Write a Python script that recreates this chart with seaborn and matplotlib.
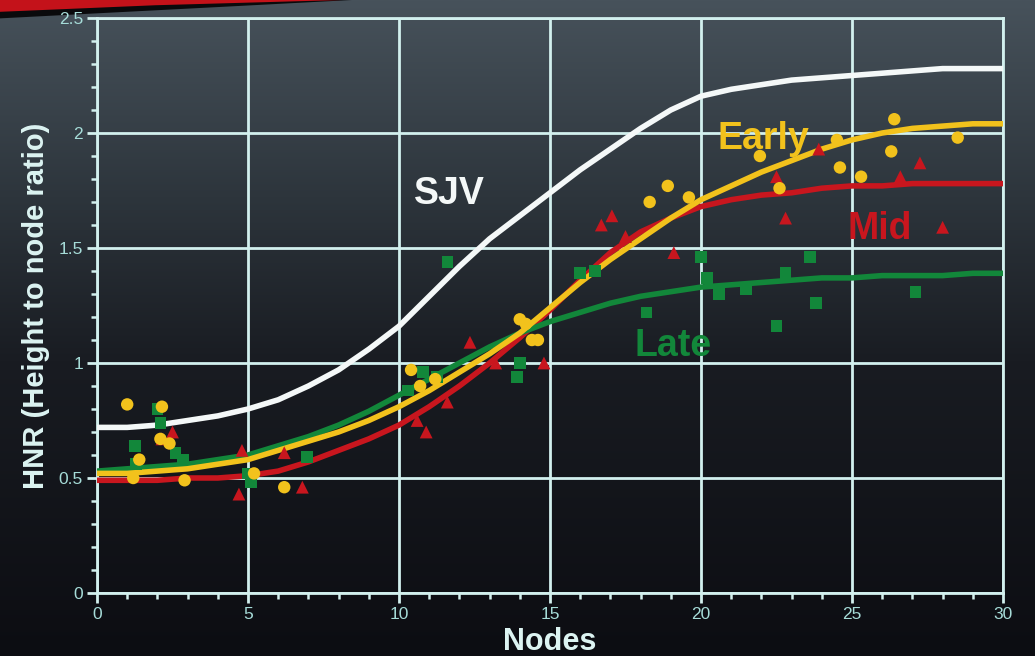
import numpy as np
import pandas as pd
import matplotlib
matplotlib.use("Agg")
import matplotlib.pyplot as plt
from matplotlib.colors import LinearSegmentedColormap
from matplotlib.patches import Polygon
import seaborn as sns

# ---------------- data ----------------
nodes = list(range(31))
sjv_y = [0.72, 0.72, 0.73, 0.75, 0.77, 0.80, 0.84, 0.90, 0.97, 1.06, 1.16,
         1.29, 1.42, 1.54, 1.64, 1.74, 1.84, 1.93, 2.02, 2.10, 2.16,
         2.19, 2.21, 2.23, 2.24, 2.25, 2.26, 2.27, 2.28, 2.28, 2.28]
early_y = [0.52, 0.52, 0.53, 0.54, 0.56, 0.58, 0.62, 0.66, 0.70, 0.75, 0.81,
           0.88, 0.96, 1.04, 1.13, 1.24, 1.35, 1.45, 1.54, 1.63, 1.71,
           1.77, 1.83, 1.88, 1.93, 1.97, 2.00, 2.02, 2.03, 2.04, 2.04]
mid_y = [0.49, 0.49, 0.49, 0.50, 0.50, 0.51, 0.53, 0.57, 0.62, 0.67, 0.73,
         0.81, 0.90, 1.00, 1.11, 1.23, 1.36, 1.48, 1.57, 1.63, 1.68,
         1.71, 1.73, 1.74, 1.76, 1.77, 1.77, 1.78, 1.78, 1.78, 1.78]
late_y = [0.53, 0.54, 0.55, 0.56, 0.58, 0.60, 0.64, 0.68, 0.73, 0.79, 0.86,
          0.93, 1.00, 1.07, 1.13, 1.18, 1.22, 1.26, 1.29, 1.31, 1.33,
          1.34, 1.35, 1.36, 1.37, 1.37, 1.38, 1.38, 1.38, 1.39, 1.39]

early_pts_x = [1.0, 1.2, 1.4, 2.15, 2.1, 2.4, 2.9, 5.2, 6.2, 10.4, 10.7, 11.2,
               14.0, 14.2, 14.6, 14.4, 18.3, 18.9, 19.6, 21.95, 22.6, 24.5,
               24.6, 25.3, 26.3, 26.4, 28.5]
early_pts_y = [0.82, 0.50, 0.58, 0.81, 0.67, 0.65, 0.49, 0.52, 0.46, 0.97, 0.90, 0.93,
               1.19, 1.17, 1.10, 1.10, 1.70, 1.77, 1.72, 1.90, 1.76, 1.97,
               1.85, 1.81, 1.92, 2.06, 1.98]

mid_pts_x = [2.15, 2.5, 4.8, 4.7, 6.2, 6.8, 10.6, 10.9, 11.6, 12.35, 13.2, 14.8,
             16.7, 17.05, 17.5, 19.1, 22.5, 22.8, 23.9, 26.6, 27.25, 28.0]
mid_pts_y = [0.67, 0.70, 0.62, 0.43, 0.61, 0.46, 0.75, 0.70, 0.83, 1.09, 1.00, 1.00,
             1.60, 1.64, 1.55, 1.48, 1.81, 1.63, 1.93, 1.81, 1.87, 1.59]

late_pts_x = [1.25, 1.3, 2.0, 2.1, 2.6, 2.85, 5.0, 5.1, 6.95, 10.3, 10.8, 11.25,
              11.6, 13.9, 14.0, 16.0, 16.5, 18.2, 20.0, 20.2, 20.6, 21.5,
              22.5, 22.8, 23.6, 23.8, 27.1]
late_pts_y = [0.64, 0.56, 0.80, 0.74, 0.61, 0.58, 0.52, 0.48, 0.59, 0.88, 0.96, 0.94,
              1.44, 0.94, 1.00, 1.39, 1.40, 1.22, 1.46, 1.37, 1.30, 1.32,
              1.16, 1.39, 1.46, 1.26, 1.31]

x_ticks = [0, 5, 10, 15, 20, 25, 30]
y_ticks = [0, 0.5, 1, 1.5, 2, 2.5]
y_tick_labels = ["0", "0.5", "1", "1.5", "2", "2.5"]

# ---------------- style ----------------
sns.set_theme(style="dark")
plt.rcParams["font.family"] = ["Liberation Sans", "DejaVu Sans"]

WHITE = "#f4f8f8"
YELLOW = "#f2c21c"
RED = "#c8161e"
GREEN = "#12873a"
GRID = "#d2f0ee"
TICKLAB = "#a6dcd8"
LABEL = "#dcf4f2"

fig = plt.figure(figsize=(10.35, 6.56), dpi=100)

# background gradient
bg = fig.add_axes([0, 0, 1, 1], zorder=-10)
cmap = LinearSegmentedColormap.from_list(
    "bg", [(0.0, "#47525b"), (0.3, "#2d353c"), (0.55, "#191c22"), (1.0, "#0c0d12")])
grad = np.linspace(0, 1, 256).reshape(-1, 1)
bg.imshow(grad, aspect="auto", cmap=cmap, extent=[0, 1, 0, 1], origin="upper")
bg.set_xlim(0, 1)
bg.set_ylim(0, 1)
bg.axis("off")
# red swoosh top-left
bg.add_patch(Polygon([[0, 1], [0.34, 1], [0.22, 0.99], [0.0, 0.972]],
                     closed=True, facecolor="#0a0a0c", edgecolor="none"))
bg.add_patch(Polygon([[0, 1], [0.33, 1], [0.15, 0.992], [0.0, 0.982]],
                     closed=True, facecolor="#c4121a", edgecolor="none"))

ax = fig.add_axes([97 / 1035, 63 / 656, 906 / 1035, 575 / 656])
ax.set_facecolor("none")

curves = pd.DataFrame({"Nodes": nodes, "SJV": sjv_y, "Early": early_y,
                       "Mid": mid_y, "Late": late_y})
lw = 4.0
sns.lineplot(data=curves, x="Nodes", y="SJV", color=WHITE, lw=lw, ax=ax, zorder=3)
sns.lineplot(data=curves, x="Nodes", y="Mid", color=RED, lw=lw, ax=ax, zorder=4)
sns.lineplot(data=curves, x="Nodes", y="Late", color=GREEN, lw=lw, ax=ax, zorder=4)
sns.lineplot(data=curves, x="Nodes", y="Early", color=YELLOW, lw=lw, ax=ax, zorder=5)

sns.scatterplot(x=late_pts_x, y=late_pts_y, marker="s", s=70, color=GREEN,
                edgecolor="none", ax=ax, zorder=6)
sns.scatterplot(x=mid_pts_x, y=mid_pts_y, marker="^", s=85, color=RED,
                edgecolor="none", ax=ax, zorder=6)
sns.scatterplot(x=early_pts_x, y=early_pts_y, marker="o", s=80, color=YELLOW,
                edgecolor="none", ax=ax, zorder=6)

# labels on curves
fs = 27
ax.text(10.5, 1.69, "SJV", color=WHITE, fontsize=fs, fontweight="bold", zorder=7)
ax.text(20.55, 1.93, "Early", color=YELLOW, fontsize=fs, fontweight="bold", zorder=7)
ax.text(24.85, 1.54, "Mid", color=RED, fontsize=fs, fontweight="bold", zorder=7)
ax.text(17.8, 1.03, "Late", color=GREEN, fontsize=fs, fontweight="bold", zorder=7)

ax.set_xlim(0, 30)
ax.set_ylim(0, 2.5)
ax.set_xticks(x_ticks)
ax.set_xticklabels([str(t) for t in x_ticks])
ax.set_xticks(range(31), minor=True)
ax.set_yticks(y_ticks)
ax.set_yticklabels(y_tick_labels)
ax.set_yticks(np.arange(0, 2.51, 0.1), minor=True)

ax.grid(True, which="major", color=GRID, lw=2.0, zorder=1)
ax.grid(False, which="minor")
ax.set_axisbelow(True)
for side, sp in ax.spines.items():
    sp.set_visible(True)
    sp.set_color(GRID)
    sp.set_linewidth(2.0)

ax.tick_params(axis="both", which="major", direction="out", length=7, width=2,
               color=GRID, labelcolor=TICKLAB, labelsize=12.5, pad=3,
               bottom=True, left=True)
ax.tick_params(axis="both", which="minor", direction="out", length=4, width=1.8,
               color=GRID, bottom=True, left=True)

ax.set_xlabel("Nodes", color=LABEL, fontsize=22, fontweight="bold", labelpad=4)
ax.set_ylabel("HNR (Height to node ratio)", color=LABEL, fontsize=21,
              fontweight="bold", labelpad=6)

fig.savefig("out.png", dpi=100, facecolor="#0c0d12")
